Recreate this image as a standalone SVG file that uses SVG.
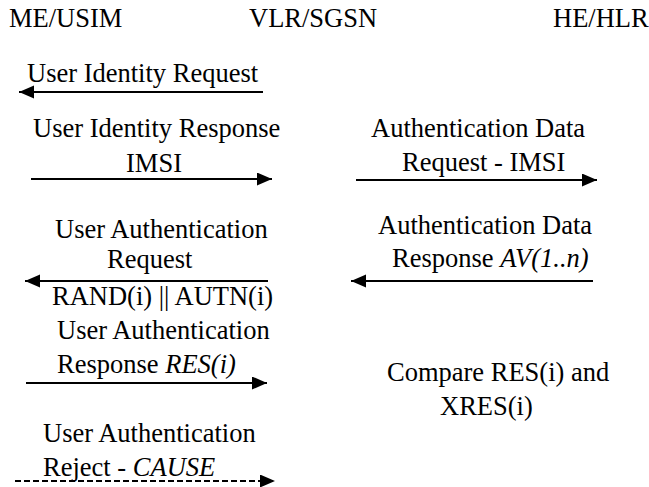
<svg xmlns="http://www.w3.org/2000/svg" width="649" height="487" viewBox="0 0 649 487">
<style>
text{font-family:"Liberation Serif","Tinos","Times New Roman","DejaVu Serif",serif;font-size:26.5px;fill:#000}
.it{font-style:italic}
.msg{stroke:#000;stroke-width:2;fill:none}
.dash{stroke-dasharray:6 3}
</style>
<defs>
<marker id="ah" markerUnits="userSpaceOnUse" markerWidth="16" markerHeight="14" refX="15" refY="6.5" orient="auto">
<path d="M0,0 L15,6.5 L0,13 z" fill="#000"/>
</marker>
</defs>
<rect width="649" height="487" fill="#fff"/>
<g id="me-usim"><text x="9" y="27">ME/USIM</text></g>
<g id="vlr-sgsn"><text x="249" y="27">VLR/SGSN</text></g>
<g id="he-hlr"><text x="553" y="27">HE/HLR</text></g>
<g id="connectors">
<line class="msg" x1="263" y1="92" x2="19" y2="92" marker-end="url(#ah)"/>
<line class="msg" x1="31" y1="179" x2="272" y2="179" marker-end="url(#ah)"/>
<line class="msg" x1="356" y1="180" x2="597" y2="180" marker-end="url(#ah)"/>
<line class="msg" x1="593" y1="281" x2="351" y2="281" marker-end="url(#ah)"/>
<line class="msg" x1="268" y1="281" x2="25" y2="281" marker-end="url(#ah)"/>
<line class="msg" x1="26" y1="383" x2="267" y2="383" marker-end="url(#ah)"/>
<line class="msg dash" x1="15" y1="481" x2="275" y2="481" marker-end="url(#ah)"/>
</g>
<g id="labels">
<text x="27" y="82">User Identity Request</text>
<text x="33" y="137">User Identity Response</text>
<text x="126" y="172">IMSI</text>
<text x="371" y="137">Authentication Data</text>
<text x="402" y="171">Request - IMSI</text>
<text x="378" y="234">Authentication Data</text>
<text x="392" y="267">Response <tspan class="it">AV(1..n)</tspan></text>
<text x="55" y="238">User Authentication</text>
<text x="107" y="268">Request</text>
<text x="52" y="305">RAND(i) || AUTN(i)</text>
<text x="57" y="339">User Authentication</text>
<text x="57" y="373">Response <tspan class="it">RES(i)</tspan></text>
<text x="387" y="381">Compare RES(i) and</text>
<text x="440" y="415">XRES(i)</text>
<text x="43" y="442">User Authentication</text>
<text x="43" y="476">Reject - <tspan class="it">CAUSE</tspan></text>
</g>
</svg>
